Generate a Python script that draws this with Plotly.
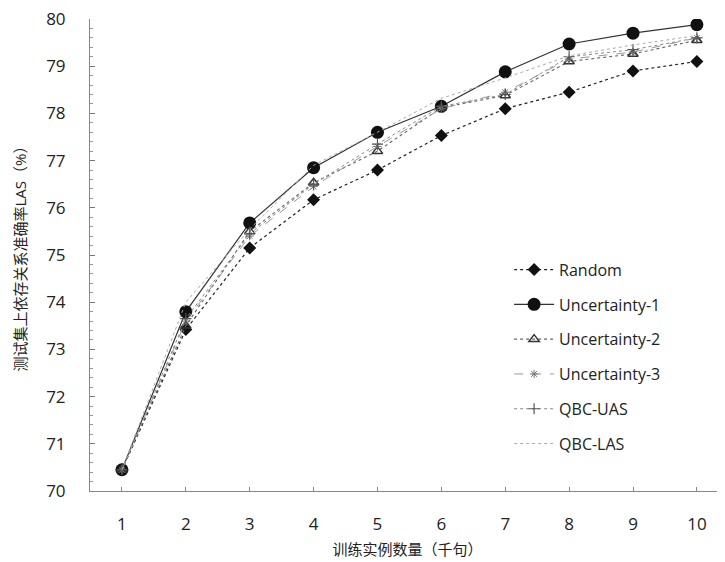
import plotly.graph_objects as go

x_vals = [1, 2, 3, 4, 5, 6, 7, 8, 9, 10]
random_vals = [70.45, 73.42, 75.15, 76.17, 76.80, 77.53, 78.10, 78.45, 78.90, 79.10]
unc1_vals = [70.45, 73.80, 75.68, 76.85, 77.60, 78.15, 78.88, 79.47, 79.70, 79.88]
unc2_vals = [70.45, 73.50, 75.50, 76.53, 77.20, 78.12, 78.38, 79.10, 79.26, 79.55]
unc3_vals = [70.45, 73.60, 75.40, 76.45, 77.30, 78.10, 78.45, 79.15, 79.30, 79.60]
qbcuas_vals = [70.45, 73.65, 75.45, 76.50, 77.35, 78.15, 78.40, 79.20, 79.35, 79.60]
qbclas_vals = [70.45, 74.00, 75.55, 76.90, 77.60, 78.32, 78.75, 79.22, 79.45, 79.65]

y_ticks = [70, 71, 72, 73, 74, 75, 76, 77, 78, 79, 80]
x_title = "训练实例数量（千句）"
y_title = "测试集上依存关系准确率LAS（%）"

series = [
    ("Random", random_vals, dict(color="#222", width=1.2, dash="dot"),
     dict(symbol="diamond", size=10, color="#111")),
    ("Uncertainty-1", unc1_vals, dict(color="#333", width=1.2, dash="solid"),
     dict(symbol="circle", size=13, color="#111")),
    ("Uncertainty-2", unc2_vals, dict(color="#666", width=1.1, dash="dot"),
     dict(symbol="triangle-up-open", size=9, color="#333", line=dict(width=1.5))),
    ("Uncertainty-3", unc3_vals, dict(color="#999", width=1.0, dash="dash"),
     dict(symbol="asterisk-open", size=7, color="#777", line=dict(width=1))),
    ("QBC-UAS", qbcuas_vals, dict(color="#888", width=1.0, dash="dot"),
     dict(symbol="cross-thin-open", size=8, color="#555", line=dict(width=1.2))),
    ("QBC-LAS", qbclas_vals, dict(color="#aaa", width=1.0, dash="dot"),
     None),
]

fig = go.Figure()
for i, (name, vals, line, marker) in enumerate(series):
    kw = dict(x=x_vals, y=vals, name=name, line=line, legendgroup=str(i))
    if marker is None:
        kw["mode"] = "lines"
    else:
        kw["mode"] = "lines+markers"
        kw["marker"] = marker
    fig.add_trace(go.Scatter(**kw))

font_family = "Open Sans, Liberation Sans, Noto Sans CJK SC, sans-serif"

fig.update_layout(
    width=717, height=554,
    margin=dict(l=82, r=0, t=11, b=71, autoexpand=False),
    paper_bgcolor="white", plot_bgcolor="white",
    font=dict(family=font_family, color="#222"),
    showlegend=True,
    legend=dict(
        x=0.66, y=0.505, xanchor="left", yanchor="top",
        font=dict(size=16, color="#222"),
        bgcolor="rgba(0,0,0,0)",
        traceorder="grouped", tracegroupgap=11,
        itemwidth=40,
    ),
)

fig.update_xaxes(
    range=[0.5, 10.44],
    automargin=False,
    tickmode="array", tickvals=x_vals, ticktext=[str(v) for v in x_vals],
    showgrid=False, zeroline=False,
    showline=True, linecolor="#888", linewidth=1,
    ticks="inside", ticklen=4, tickcolor="#888",
    tickfont=dict(size=17, color="#222"),
    ticklabelstandoff=18,
    ticklabeloverflow="allow",
    title=dict(text=x_title, font=dict(size=15, color="#222"), standoff=10),
)
fig.update_yaxes(
    range=[70, 80],
    automargin=False,
    tickmode="array", tickvals=y_ticks, ticktext=[str(v) for v in y_ticks],
    showgrid=False, zeroline=False,
    showline=True, linecolor="#888", linewidth=1,
    ticks="inside", ticklen=5, tickcolor="#777",
    minor=dict(ticks="inside", ticklen=3, dtick=0.2, tickcolor="#999"),
    tickfont=dict(size=17, color="#222"),
    ticklabelstandoff=20,
    ticklabeloverflow="allow",
    title=dict(text=y_title, font=dict(size=15, color="#222"), standoff=15),
)

fig.write_html("out.html")
